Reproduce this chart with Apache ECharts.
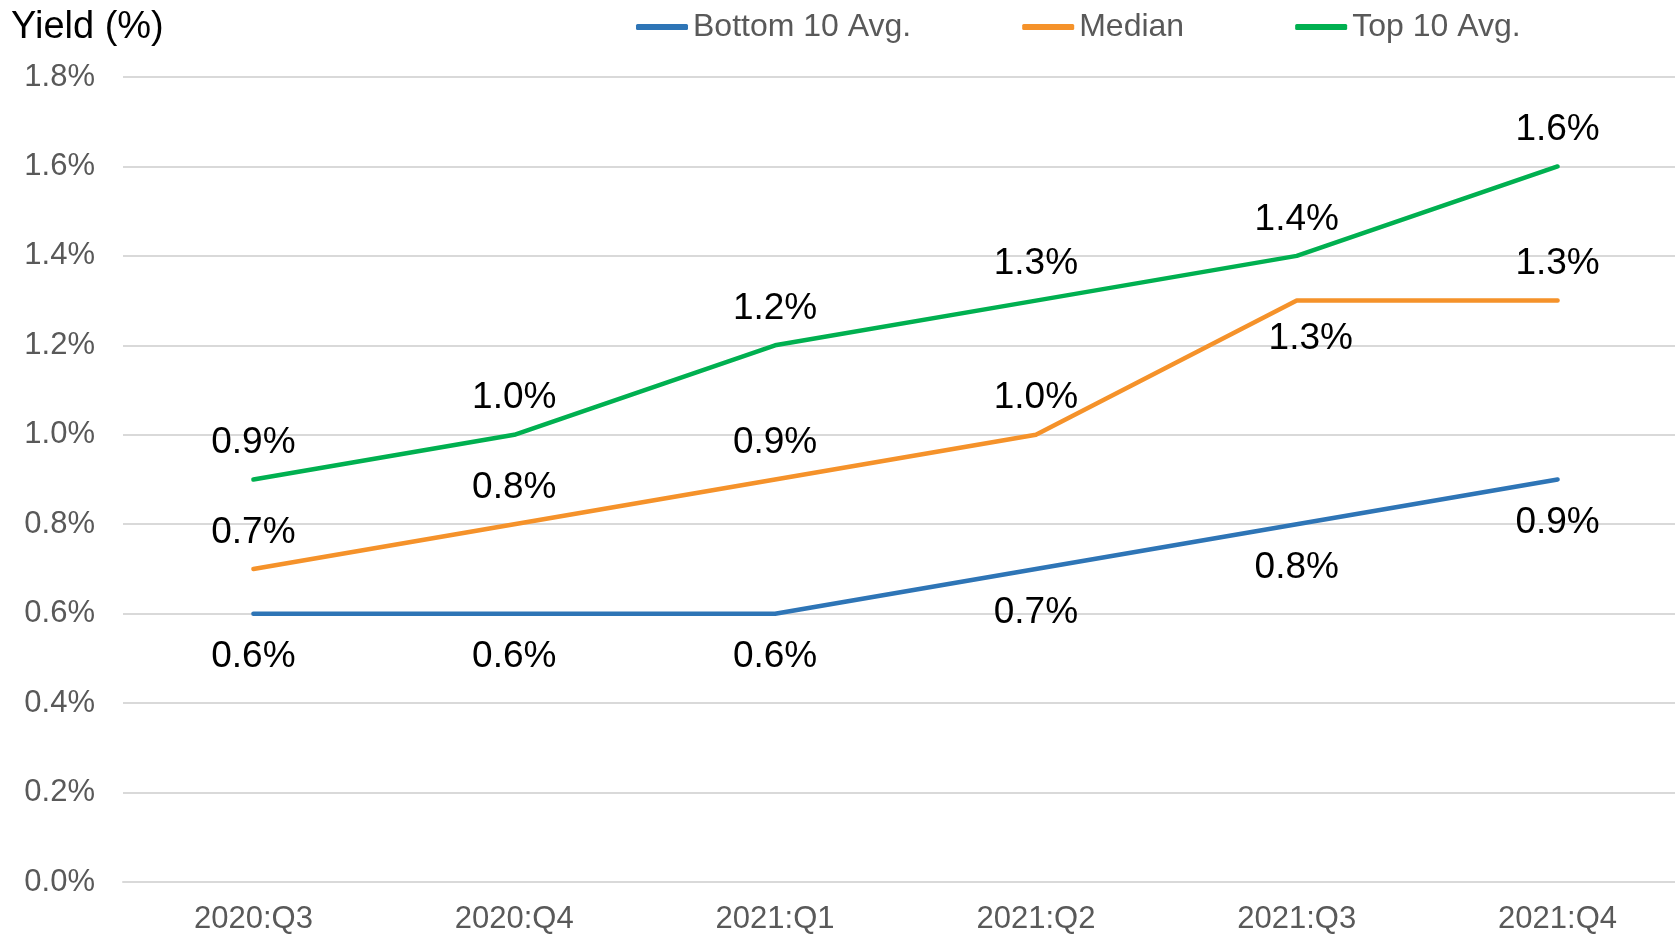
<!DOCTYPE html>
<html>
<head>
<meta charset="utf-8">
<title>Yield (%)</title>
<script src="https://cdn.jsdelivr.net/npm/echarts@6/dist/echarts.min.js"></script>
<style>
  html, body { margin: 0; padding: 0; background: #fff; overflow: hidden; }
  /* plot runs a little past the right edge of the window, as in the original */
  #chart { width: 1688px; height: 935px; }
</style>
</head>
<body>
<div id="chart"></div>
<script>
// Yield by quarter, values in percent
const quarters = ['2020:Q3', '2020:Q4', '2021:Q1', '2021:Q2', '2021:Q3', '2021:Q4']
const bottom10 = [0.6, 0.6, 0.6, 0.7, 0.8, 0.9]
const median = [0.7, 0.8, 0.9, 1.0, 1.3, 1.3]
const top10 = [0.9, 1.0, 1.2, 1.3, 1.4, 1.6]
// label placement per point
const medianLabelPos = ['top', 'top', 'top', 'top', 'bottom', 'top']

const FONT = "'Liberation Sans', Arial, sans-serif"
const pct = v => v.toFixed(1) + '%'

function lineSeries(name, color, values, positions, bottomGap = 25) {
  return {
    name,
    type: 'line',
    data: values.map((v, i) => {
      const pos = positions[i]
      const label = { position: pos, distance: pos === 'top' ? 18 : bottomGap }
      // the median's lower label sits a bit right of its point in the original
      if (bottomGap !== 25 && pos === 'bottom') label.offset = [14, 0]
      return { value: v, label }
    }),
    color,
    symbol: 'circle',
    symbolSize: 0,
    showSymbol: true,
    lineStyle: { width: 4.5, color, cap: 'round', join: 'round' },
    label: {
      show: true,
      formatter: p => pct(p.value),
      color: '#000',
      fontSize: 37,
      lineHeight: 37,
      fontFamily: FONT
    },
    emphasis: { disabled: true },
    animation: false
  }
}

const chart = echarts.init(document.getElementById('chart'))

chart.setOption({
  textStyle: { fontFamily: FONT },
  title: {
    text: 'Yield (%)',
    left: 6,
    top: 4,
    textStyle: { fontSize: 38, fontWeight: 'normal', color: '#000', fontFamily: FONT }
  },
  legend: {
    left: 631,
    top: 6,
    icon: 'roundRect',
    itemWidth: 52,
    itemHeight: 6,
    itemGap: 111,
    textStyle: { fontSize: 32, lineHeight: 32, color: '#595959', fontFamily: FONT },
    data: ['Bottom 10 Avg.', 'Median', 'Top 10 Avg.']
  },
  grid: { left: 123, right: 0, top: 77, bottom: 48, containLabel: false },
  xAxis: {
    type: 'category',
    data: quarters,
    boundaryGap: true,
    axisLine: { show: true, lineStyle: { color: '#d9d9d9', width: 2 } },
    axisTick: { show: false },
    axisLabel: { fontSize: 31, color: '#595959', margin: 22, fontFamily: FONT }
  },
  yAxis: {
    type: 'value',
    min: 0,
    max: 1.8,
    interval: 0.2,
    axisLine: { show: false },
    axisTick: { show: false },
    splitLine: { lineStyle: { color: '#d9d9d9', width: 2 } },
    axisLabel: { fontSize: 31, color: '#595959', margin: 28, formatter: pct, fontFamily: FONT }
  },
  series: [
    lineSeries('Bottom 10 Avg.', '#2E75B6', bottom10, bottom10.map(() => 'bottom')),
    lineSeries('Median', '#F5922A', median, medianLabelPos, 20),
    lineSeries('Top 10 Avg.', '#00B050', top10, top10.map(() => 'top'))
  ]
})
</script>
</body>
</html>
